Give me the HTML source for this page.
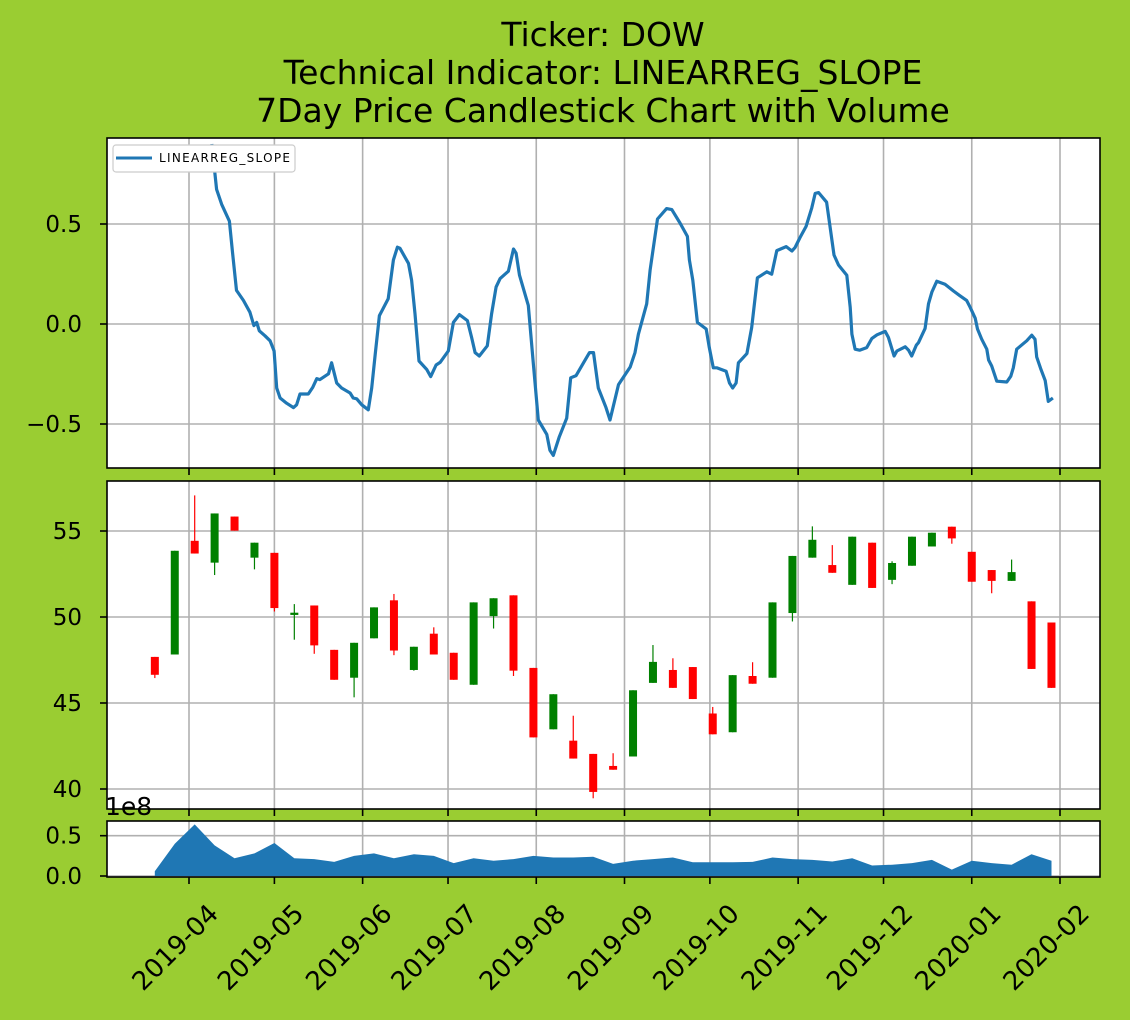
<!DOCTYPE html>
<html><head><meta charset="utf-8"><style>
html,body{margin:0;padding:0;background:#9acd32;}
svg{display:block;font-family:"DejaVu Sans","Liberation Sans",sans-serif;}
</style></head><body>
<svg id="chart" width="1130" height="1020" xmlns="http://www.w3.org/2000/svg">
<rect width="1130" height="1020" fill="#9acd32"/>
<g font-size="33" text-anchor="middle" fill="#000">
<text x="603" y="46">Ticker: DOW</text>
<text x="603" y="84">Technical Indicator: LINEARREG_SLOPE</text>
<text x="603" y="122">7Day Price Candlestick Chart with Volume</text>
</g>
<g id="layer"></g>
</svg>
<script>
const candleDates=['2019-03-20','2019-03-27','2019-04-03','2019-04-10','2019-04-17','2019-04-24','2019-05-01','2019-05-08','2019-05-15','2019-05-22','2019-05-29','2019-06-05','2019-06-12','2019-06-19','2019-06-26','2019-07-03','2019-07-10','2019-07-17','2019-07-24','2019-07-31','2019-08-07','2019-08-14','2019-08-21','2019-08-28','2019-09-04','2019-09-11','2019-09-18','2019-09-25','2019-10-02','2019-10-09','2019-10-16','2019-10-23','2019-10-30','2019-11-06','2019-11-13','2019-11-20','2019-11-27','2019-12-04','2019-12-11','2019-12-18','2019-12-25','2020-01-01','2020-01-08','2020-01-15','2020-01-22','2020-01-29'];
const openP=[47.68,47.82,54.43,53.16,55.84,53.45,53.73,50.12,50.67,48.09,46.47,48.76,50.97,46.92,49.03,47.92,46.06,50.05,51.26,47.04,43.47,42.81,42.04,41.34,41.89,46.17,46.92,47.09,44.39,43.30,46.57,46.47,50.23,53.45,53.02,51.87,54.32,52.16,52.98,54.10,55.25,53.79,52.73,52.10,50.91,49.68];
const closeP=[46.64,53.85,53.69,56.02,55.02,54.32,50.52,50.25,48.35,46.35,48.50,50.56,48.05,48.27,47.82,46.35,50.85,51.09,46.88,43.00,45.51,41.77,39.83,41.12,45.74,47.39,45.88,45.23,43.18,46.62,46.12,50.85,53.55,54.49,52.57,54.67,51.69,53.14,54.67,54.90,54.57,52.05,52.10,52.61,46.98,45.88];
const highP=[47.68,53.85,57.07,56.02,55.84,54.32,53.73,50.75,50.67,48.09,48.50,50.56,51.34,48.27,49.40,47.92,50.85,51.09,51.26,47.04,45.51,44.26,42.04,42.08,45.74,48.37,47.60,47.09,44.77,46.62,47.37,50.85,53.55,55.27,54.18,54.67,54.32,53.24,54.67,54.90,55.25,53.79,52.73,53.34,50.91,49.68];
const lowP=[46.45,47.82,53.69,52.44,55.02,52.77,50.32,48.68,47.86,46.35,45.33,48.76,47.78,46.88,47.82,46.35,46.06,49.33,46.57,43.00,43.47,41.77,39.46,41.12,41.89,46.17,45.88,45.23,43.18,43.30,46.12,46.47,49.74,53.45,52.57,51.87,51.69,51.91,52.98,54.10,54.26,52.05,51.38,52.10,46.98,45.88];
const volumes=[0.06,0.40,0.64,0.38,0.22,0.28,0.41,0.22,0.21,0.175,0.25,0.28,0.22,0.27,0.25,0.16,0.22,0.19,0.21,0.25,0.23,0.23,0.24,0.15,0.19,0.21,0.23,0.17,0.17,0.17,0.175,0.23,0.21,0.20,0.18,0.22,0.13,0.14,0.16,0.20,0.08,0.19,0.16,0.14,0.27,0.19];
const slopeDays=[8.0,9.7,11.5,14.2,15.3,16.7,19.1,21.4,22.8,23.8,24.7,26.7,28.5,29.9,30.8,32.0,34.3,36.7,37.8,39.0,41.9,43.5,44.9,46.0,49.0,50.1,51.9,53.6,56.6,57.7,58.9,60.7,63.0,64.2,65.4,66.9,70.0,71.8,73.2,74.1,77.1,78.2,79.4,80.8,83.5,84.9,86.8,88.2,91.1,92.9,95.0,97.8,99.3,100.5,102.0,104.8,106.3,107.9,109.3,112.2,114.0,114.9,116.1,119.2,121.0,122.7,125.7,126.8,128.0,130.1,132.7,134.1,136.0,138.6,140.7,142.1,143.8,146.5,147.9,150.9,155.0,156.7,157.9,160.8,162.0,163.2,164.6,167.8,169.6,172.5,175.1,175.8,177.0,178.6,181.7,182.8,184.2,185.4,188.7,189.9,191.0,192.2,193.0,196.0,197.7,199.7,203.0,204.7,206.5,209.8,211.8,212.9,214.7,216.8,218.8,220.0,221.2,224.0,225.2,226.6,228.2,231.1,232.3,232.9,234.0,235.6,238.1,239.9,241.7,244.6,245.7,247.7,248.7,251.6,252.8,253.9,255.5,256.3,258.6,259.8,261.0,262.7,265.6,268.6,270.7,273.2,274.4,276.2,277.0,278.5,280.3,280.9,282.0,283.8,287.3,288.7,289.6,290.8,292.6,294.3,296.1,297.2,297.8,299.2,300.8,301.9,303.5];
const slopeVals=[0.90,0.673,0.598,0.514,0.354,0.168,0.118,0.059,-0.008,0.008,-0.034,-0.059,-0.084,-0.135,-0.320,-0.370,-0.396,-0.418,-0.404,-0.350,-0.350,-0.316,-0.273,-0.278,-0.249,-0.194,-0.295,-0.320,-0.345,-0.370,-0.374,-0.404,-0.429,-0.320,-0.152,0.042,0.126,0.320,0.384,0.379,0.303,0.219,0.051,-0.185,-0.227,-0.263,-0.205,-0.192,-0.135,0.008,0.047,0.017,-0.067,-0.143,-0.160,-0.109,0.051,0.185,0.227,0.264,0.375,0.354,0.244,0.093,-0.202,-0.480,-0.552,-0.631,-0.657,-0.564,-0.471,-0.269,-0.258,-0.194,-0.143,-0.143,-0.320,-0.418,-0.480,-0.303,-0.215,-0.143,-0.051,0.101,0.269,0.387,0.525,0.577,0.572,0.505,0.438,0.320,0.219,0.008,-0.025,-0.118,-0.219,-0.219,-0.236,-0.295,-0.320,-0.295,-0.194,-0.148,-0.017,0.231,0.261,0.249,0.367,0.387,0.365,0.382,0.433,0.488,0.581,0.653,0.657,0.609,0.488,0.345,0.295,0.244,0.084,-0.051,-0.126,-0.131,-0.118,-0.072,-0.054,-0.037,-0.067,-0.160,-0.135,-0.114,-0.131,-0.160,-0.106,-0.093,-0.022,0.101,0.160,0.214,0.199,0.165,0.143,0.118,0.084,0.029,-0.025,-0.076,-0.126,-0.180,-0.210,-0.286,-0.290,-0.261,-0.219,-0.126,-0.104,-0.084,-0.056,-0.076,-0.165,-0.222,-0.283,-0.387,-0.370];
const xTickLabels=['2019-04','2019-05','2019-06','2019-07','2019-08','2019-09','2019-10','2019-11','2019-12','2020-01','2020-02'];
const slopeTicks=[-0.5,0.0,0.5];
const slopeTickLabels=['\u22120.5','0.0','0.5'];
const priceTicks=[40,45,50,55];
const volTicks=[0,0.5];
const volTickLabels=['0.0','0.5'];

const NS='http://www.w3.org/2000/svg';
const layer=document.getElementById('layer');
const L=107,R=1100;
const P1={t:138,b:468},P2={t:481,b:809},P3={t:821,b:877};
const base=Date.UTC(2019,3,1), end=Date.UTC(2020,1,1);
function dayOf(s){const p=s.split('-');return (Date.UTC(+p[0],+p[1]-1,+(p[2]||1))-base)/864e5;}
const endDay=(end-base)/864e5;
function xs(d){return 189+d*(1060-189)/endDay;}
function y1(v){return 324-v*200;}
function y2(p){return 789-(p-40)*17.2;}
function y3(v){return 876-v*80.6;}
function mk(tag,attrs,parent){const e=document.createElementNS(NS,tag);for(const k in attrs)e.setAttribute(k,attrs[k]);(parent||layer).appendChild(e);return e;}

const panels=[P1,P2,P3];
panels.forEach((p,i)=>{
  const r=mk('rect',{x:L,y:p.t,width:R-L,height:p.b-p.t,fill:'#fff'});
  
  
});
xTickLabels.forEach((lab,i)=>{
  const x=xs(dayOf(lab));
  panels.forEach(p=>{
    const g=mk('line',{x1:x,x2:x,y1:p.t,y2:p.b,stroke:'#b0b0b0','stroke-width':1.6});
    
    
    const t=mk('line',{x1:x,x2:x,y1:p.b,y2:p.b+7,stroke:'#000','stroke-width':1.6});
    
    
  });
  const tx=mk('text',{x:0,y:0,'font-size':26,'text-anchor':'start',transform:`translate(${x-46},${992}) rotate(-45)`});
  tx.textContent=lab;
  
  
});
function yTicks(vals,labs,scale,p){
  vals.forEach((v,i)=>{
    const y=scale(v);
    const g=mk('line',{x1:L,x2:R,y1:y,y2:y,stroke:'#b0b0b0','stroke-width':1.6});
    
    
    const t=mk('line',{x1:L-7,x2:L,y1:y,y2:y,stroke:'#000','stroke-width':1.6});
    
    
    const tx=mk('text',{x:L-25,y:y+8,'font-size':23,'text-anchor':'end'});
    tx.textContent=labs[i];
    
    
  });
}
yTicks(slopeTicks,slopeTickLabels,y1,P1);
yTicks(priceTicks,priceTicks.map(String),y2,P2);
yTicks(volTicks,volTickLabels,y3,P3);

const defs=mk('defs',{});
const cp=mk('clipPath',{id:'c1'},defs);
mk('rect',{x:L,y:P1.t,width:R-L,height:P1.b-P1.t},cp);
let d='';
slopeDays.forEach((dd,i)=>{d+=(i?'L':'M')+xs(dd).toFixed(1)+','+y1(slopeVals[i]).toFixed(1);});
const ln=mk('path',{d:d,fill:'none',stroke:'#1f77b4','stroke-width':3.2,'stroke-linejoin':'round','clip-path':'url(#c1)'});



candleDates.forEach((ds,i)=>{
  const x=xs(dayOf(ds));
  const up=closeP[i]>=openP[i];
  const col=up?'#008000':'#ff0000';
  const w=mk('line',{x1:x,x2:x,y1:y2(highP[i]),y2:y2(lowP[i]),stroke:col,'stroke-width':1.2});
  
  
  const top=y2(Math.max(openP[i],closeP[i])),bot=y2(Math.min(openP[i],closeP[i]));
  const b=mk('rect',{x:x-4,y:top,width:8,height:Math.max(bot-top,1.5),fill:col});
  
  
});

let vd='M'+xs(dayOf(candleDates[0])).toFixed(1)+','+y3(0);
candleDates.forEach((ds,i)=>{vd+='L'+xs(dayOf(ds)).toFixed(1)+','+y3(volumes[i]).toFixed(1);});
vd+='L'+xs(dayOf(candleDates[candleDates.length-1])).toFixed(1)+','+y3(0)+'Z';
const va=mk('path',{d:vd,fill:'#1f77b4'});



panels.forEach((p,i)=>{
  const r=mk('rect',{x:L,y:p.t,width:R-L,height:p.b-p.t,fill:'none',stroke:'#000','stroke-width':1.6});
  
  
});

const off=mk('text',{x:105,y:815,'font-size':25});
off.textContent='1e8';



const lg=mk('g',{});


const lb=mk('rect',{x:113,y:145,width:182,height:27,rx:3,fill:'#fff',stroke:'#ccc','stroke-width':1.2},lg);


const ll=mk('line',{x1:116,x2:152,y1:158,y2:158,stroke:'#1f77b4','stroke-width':3},lg);


const lt=mk('text',{x:159,y:162,'font-size':12,textLength:131},lg);
lt.textContent='LINEARREG_SLOPE';


</script>
</body></html>
